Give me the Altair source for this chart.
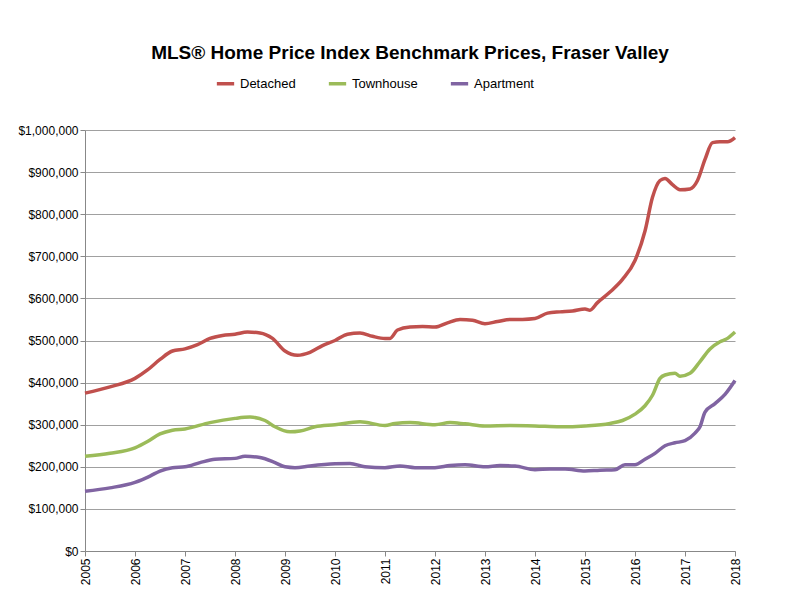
import altair as alt
import pandas as pd

det_t = [2005, 2005.5, 2006, 2006.25, 2006.5, 2006.75, 2007, 2007.25, 2007.5, 2007.75, 2008, 2008.25, 2008.5,
         2008.75, 2009, 2009.25, 2009.5, 2009.75, 2010, 2010.25, 2010.5, 2010.75, 2011, 2011.1, 2011.25, 2011.5,
         2011.75, 2012, 2012.25, 2012.5, 2012.75, 2013, 2013.25, 2013.5, 2013.75, 2014, 2014.25, 2014.5, 2014.75,
         2015, 2015.1, 2015.25, 2015.5, 2015.75, 2016, 2016.2, 2016.35, 2016.5, 2016.6, 2016.75, 2016.9, 2017.1,
         2017.25, 2017.4, 2017.55, 2017.7, 2017.85, 2018]
det_v = [375, 390, 410, 430, 455, 475, 480, 490, 505, 512, 515, 520, 518, 505, 475, 465, 472, 488, 500, 515,
         518, 510, 505, 505, 525, 532, 533, 532, 542, 550, 548, 540, 545, 550, 550, 552, 565, 568, 570, 575, 572,
         590, 615, 645, 690, 760, 840, 880, 885, 870, 858, 860, 880, 930, 970, 972, 972, 982]

town_t = [2005, 2005.5, 2006, 2006.25, 2006.5, 2006.75, 2007, 2007.5, 2008, 2008.3, 2008.6, 2008.8, 2009.1,
          2009.3, 2009.6, 2010, 2010.5, 2011, 2011.2, 2011.5, 2012, 2012.3, 2012.6, 2013, 2013.5, 2014, 2014.5,
          2015, 2015.5, 2015.75, 2016, 2016.2, 2016.35, 2016.5, 2016.6, 2016.8, 2016.9, 2017.1, 2017.3, 2017.5,
          2017.7, 2017.85, 2018]
town_v = [225, 232, 245, 260, 278, 287, 290, 305, 315, 318, 310, 295, 283, 285, 295, 300, 307, 298, 303, 305,
          300, 305, 302, 297, 298, 297, 295, 297, 303, 310, 325, 345, 370, 410, 418, 422, 415, 422, 450, 480,
          497, 505, 520]

apt_t = [2005, 2005.5, 2006, 2006.3, 2006.5, 2006.75, 2007, 2007.3, 2007.6, 2008, 2008.2, 2008.5, 2008.8, 2009,
         2009.2, 2009.5, 2010, 2010.3, 2010.6, 2011, 2011.3, 2011.6, 2012, 2012.3, 2012.6, 2013, 2013.3, 2013.6,
         2014, 2014.3, 2014.6, 2015, 2015.3, 2015.6, 2015.8, 2016, 2016.2, 2016.4, 2016.6, 2016.8, 2017, 2017.2,
         2017.3, 2017.4, 2017.6, 2017.8, 2018]
apt_v = [142, 150, 163, 178, 190, 198, 200, 210, 218, 220, 225, 222, 210, 200, 198, 202, 207, 208, 200, 198,
         202, 198, 198, 203, 205, 200, 203, 202, 193, 195, 195, 190, 192, 193, 205, 205, 218, 232, 250, 257,
         262, 280, 295, 330, 350, 372, 405]

series = ["Detached", "Townhouse", "Apartment"]
colours = ["#C0504D", "#9BBB59", "#8064A2"]

frames = []
for name, t, v in [("Detached", det_t, det_v), ("Townhouse", town_t, town_v), ("Apartment", apt_t, apt_v)]:
    frames.append(pd.DataFrame({"year": t, "price": [x * 1000 for x in v], "type": name}))
df = pd.concat(frames)

chart = alt.Chart(df).mark_line(strokeWidth=3.5, interpolate="monotone").encode(
    x=alt.X("year:Q", scale=alt.Scale(domain=[2005, 2018], nice=False),
            axis=alt.Axis(values=list(range(2005, 2019)), format="d", labelAngle=-90, grid=False,
                          title=None, labelAlign="right", labelBaseline="middle")),
    y=alt.Y("price:Q", scale=alt.Scale(domain=[0, 1000000]),
            axis=alt.Axis(values=list(range(0, 1000001, 100000)), format="$,.0f", title=None,
                          tickSize=5)),
    color=alt.Color("type:N", scale=alt.Scale(domain=series, range=colours),
                    legend=alt.Legend(orient="none", legendX=130, legendY=-57, title=None,
                                      symbolType="stroke", symbolStrokeWidth=3.5, symbolSize=300,
                                      labelFontSize=13, direction="horizontal", columnPadding=25)),
).properties(
    width=650, height=421,
    title=alt.Title("MLS® Home Price Index Benchmark Prices, Fraser Valley", fontSize=19,
                    font="Liberation Sans", fontWeight="bold", offset=10),
    autosize=alt.AutoSizeParams(type="none"),
    padding={"left": 77, "top": 122, "right": 57, "bottom": 48},
).configure_axis(
    labelFont="Liberation Sans", labelFontSize=12, labelColor="#000", domainColor="#888",
    tickColor="#888", gridColor="#888", gridWidth=0.8
).configure_legend(labelFont="Liberation Sans").configure_view(stroke=None)

chart.save("out.html", embed_options={"renderer": "svg", "actions": False})
